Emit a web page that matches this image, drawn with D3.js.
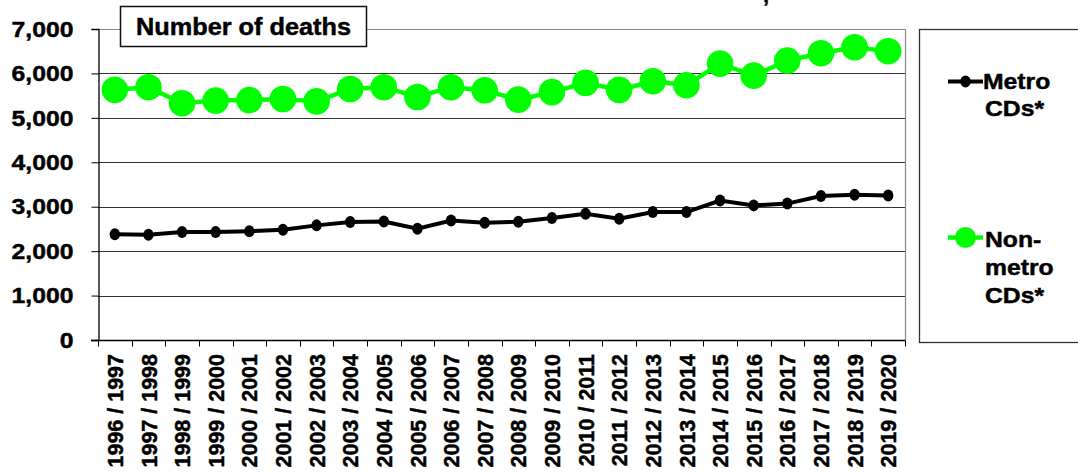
<!DOCTYPE html>
<html><head><meta charset="utf-8">
<script src="https://cdn.jsdelivr.net/npm/d3@7"></script>
<style>
html,body{margin:0;padding:0;background:#fff;}
text{font-family:Arial,"Liberation Sans",sans-serif;font-weight:bold;fill:#000;stroke:#000;stroke-width:0.45px;}
</style></head>
<body>
<svg id="c" width="1078" height="473"></svg>
<script>
const categories = ["1996 / 1997","1997 / 1998","1998 / 1999","1999 / 2000","2000 / 2001","2001 / 2002","2002 / 2003","2003 / 2004","2004 / 2005","2005 / 2006","2006 / 2007","2007 / 2008","2008 / 2009","2009 / 2010","2010 / 2011","2011 / 2012","2012 / 2013","2013 / 2014","2014 / 2015","2015 / 2016","2016 / 2017","2017 / 2018","2018 / 2019","2019 / 2020"];
const metro = [2380,2370,2430,2430,2450,2480,2580,2655,2665,2505,2690,2640,2660,2745,2840,2730,2880,2880,3140,3030,3070,3240,3270,3250];
const nonMetro = [5630,5690,5330,5390,5400,5425,5370,5650,5690,5470,5690,5620,5410,5580,5790,5630,5825,5735,6220,5950,6290,6455,6590,6500];
const yTicks = [0,1000,2000,3000,4000,5000,6000,7000];
const titleText = "Number of deaths";
const legendMetro = ["Metro","CDs*"];
const legendNon = ["Non-","metro","CDs*"];

(function(){
const svg = d3.select("#c");
const pLeft = 98, pRight = 905, pTop = 29, pBottom = 340;
const sx = 1.1;
const x = d3.scaleBand().domain(categories).range([pLeft, pRight]);
const y = d3.scaleLinear().domain([0, 7000]).range([pBottom, pTop]);
const cx = d => x(d) + x.bandwidth()/2;
const fmt = d3.format(",");

// fragment of a cut-off heading above the chart
svg.append("text").attr("x", 763).attr("y", 2).attr("font-size", 22).text(",");

// gridlines
svg.append("g").selectAll("line").data(yTicks.filter(v => v > 0 && v < 7000)).join("line")
  .attr("x1", pLeft).attr("x2", pRight)
  .attr("y1", d => Math.round(y(d)) + 0.5).attr("y2", d => Math.round(y(d)) + 0.5)
  .attr("stroke", "#333").attr("stroke-width", 1);
// top & right border
svg.append("path")
  .attr("d", `M${pLeft},${pTop + 0.5}H${pRight + 0.5}V${pBottom}`)
  .attr("fill", "none").attr("stroke", "#888").attr("stroke-width", 1.2);

// y axis
const yAxis = d3.axisLeft(y).tickValues(yTicks).tickSize(7).tickPadding(18).tickFormat(fmt);
const gy = svg.append("g").attr("transform", `translate(${pLeft + 0.5},0)`).call(yAxis);
gy.select(".domain").attr("stroke", "#000").attr("stroke-width", 1.3);
gy.selectAll(".tick line").attr("stroke", "#000");
gy.selectAll(".tick text").attr("font-size", 22.5).attr("font-family", "Arial, 'Liberation Sans', sans-serif")
  .attr("font-weight", "bold").attr("fill", "#000")
  .attr("x", -25 / sx).attr("transform", `scale(${sx},1)`);

// x axis
const gx = svg.append("g").attr("transform", `translate(0,${pBottom + 0.5})`);
gx.append("line").attr("x1", pLeft - 7).attr("x2", pRight + 0.5).attr("stroke", "#000").attr("stroke-width", 1.3);
const bounds = categories.map(c => x(c)).concat([pRight]);
gx.selectAll("line.t").data(bounds).join("line").attr("class", "t")
  .attr("x1", d => Math.round(d) + 0.5).attr("x2", d => Math.round(d) + 0.5)
  .attr("y1", 0).attr("y2", 6).attr("stroke", "#000");
svg.append("g").selectAll("text").data(categories).join("text")
  .attr("transform", d => `translate(${cx(d)},354) rotate(-90) scale(1,1.05)`)
  .attr("text-anchor", "end").attr("dy", "0.36em").attr("font-size", 21.5)
  .text(d => d);

// lines
const line = vals => d3.line().x((d, i) => cx(categories[i])).y(d => y(d))(vals);
svg.append("path").attr("d", line(metro)).attr("fill", "none").attr("stroke", "#000").attr("stroke-width", 4);
svg.append("g").selectAll("ellipse").data(metro).join("ellipse")
  .attr("cx", (d, i) => cx(categories[i])).attr("cy", d => y(d)).attr("rx", 5.2).attr("ry", 6).attr("fill", "#000");
svg.append("path").attr("d", line(nonMetro)).attr("fill", "none").attr("stroke", "#00ff00").attr("stroke-width", 4.5);
svg.append("g").selectAll("circle").data(nonMetro).join("circle")
  .attr("cx", (d, i) => cx(categories[i])).attr("cy", d => y(d)).attr("r", 13.3).attr("fill", "#00ff00");

// title box
svg.append("rect").attr("x", 120.5).attr("y", 6.5).attr("width", 246).attr("height", 40)
  .attr("fill", "#fff").attr("stroke", "#111").attr("stroke-width", 1.5);
svg.append("text").attr("transform", `translate(243.5,35) scale(${sx},1)`)
  .attr("text-anchor", "middle").attr("font-size", 23).text(titleText);

// legend
svg.append("rect").attr("x", 919.5).attr("y", 29.5).attr("width", 200).attr("height", 313)
  .attr("fill", "#fff").attr("stroke", "#333").attr("stroke-width", 1.3);
const lg = svg.append("g");
lg.append("line").attr("x1", 948).attr("x2", 983).attr("y1", 81.5).attr("y2", 81.5).attr("stroke", "#000").attr("stroke-width", 4);
lg.append("ellipse").attr("cx", 965.5).attr("cy", 81.5).attr("rx", 5.2).attr("ry", 6).attr("fill", "#000");
lg.selectAll("text.m").data(legendMetro).join("text").attr("class", "m")
  .attr("transform", (d, i) => `translate(${983 + i * 2},${89 + i * 27}) scale(${sx},1)`)
  .attr("font-size", 22.5).text(d => d);
lg.append("line").attr("x1", 948).attr("x2", 983).attr("y1", 237.5).attr("y2", 237.5).attr("stroke", "#00ff00").attr("stroke-width", 4.5);
lg.append("circle").attr("cx", 965.5).attr("cy", 237.5).attr("r", 10.5).attr("fill", "#00ff00");
lg.selectAll("text.n").data(legendNon).join("text").attr("class", "n")
  .attr("transform", (d, i) => `translate(985,${247 + i * 28}) scale(${sx},1)`)
  .attr("font-size", 22.5).text(d => d);
})();
</script>
</body></html>
